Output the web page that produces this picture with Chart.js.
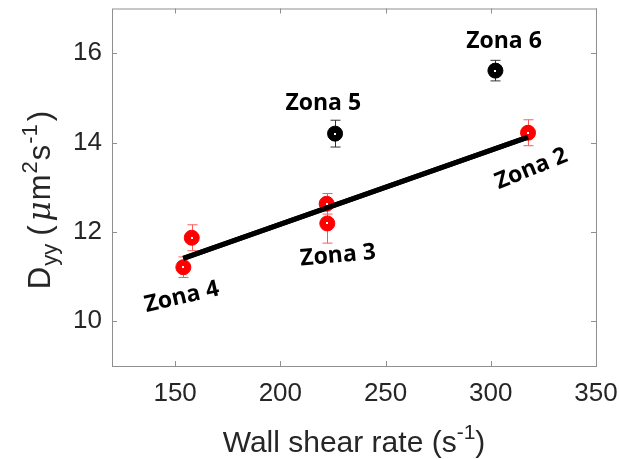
<!DOCTYPE html>
<html>
<head>
<meta charset="utf-8">
<script src="https://cdn.jsdelivr.net/npm/chart.js@4.4.0/dist/chart.umd.min.js"></script>
<style>
  html, body { margin: 0; padding: 0; background: #fff; }
  #wrap { width: 619px; height: 459px; }
</style>
</head>
<body>
<div id="wrap"><canvas id="chart-area"></canvas></div>
<script>
// wall shear rate (1/s) vs. D_yy, zones 2,3,4 in red, zones 5,6 in black
var redX = [317.7, 222.0, 222.3, 153.9, 157.9];
var redY = [14.22, 12.63, 12.19, 11.21, 11.87];
var redErr = [0.29, 0.23, 0.44, 0.23, 0.29];

var blackX = [226.0, 302.2];
var blackY = [14.20, 15.61];
var blackErr = [0.30, 0.23];

// linear fit through the red zones
var fitX = [153.9, 317.7];
var fitY = [11.41, 14.12];

var xTicks = [150, 200, 250, 300, 350];
var yTicks = [10, 12, 14, 16];

var zoneNames = ['Zona 2', 'Zona 3', 'Zona 4', 'Zona 5', 'Zona 6'];
var zoneX = [319.3, 227.4, 153.2, 220.4, 306.3];
var zoneY = [13.41, 11.47, 10.54, 14.885, 16.26];
var zoneAngle = [-22, -5, -13, 0, 0];

function toPoints(xs, ys) {
  return xs.map(function (x, i) { return { x: x, y: ys[i] }; });
}

// error bars, drawn under the markers
var errorBars = {
  id: 'errorBars',
  beforeDatasetsDraw: function (chart) {
    var ctx = chart.ctx;
    var xs = chart.scales.x, ys = chart.scales.y;
    function bars(xv, yv, ev, color) {
      ctx.save();
      ctx.strokeStyle = color;
      ctx.lineWidth = 1;
      for (var i = 0; i < xv.length; i++) {
        var px = Math.round(xs.getPixelForValue(xv[i])) + 0.5;
        var top = ys.getPixelForValue(yv[i] + ev[i]);
        var bot = ys.getPixelForValue(yv[i] - ev[i]);
        ctx.beginPath();
        ctx.moveTo(px, top); ctx.lineTo(px, bot);
        ctx.moveTo(px - 5, top); ctx.lineTo(px + 5, top);
        ctx.moveTo(px - 5, bot); ctx.lineTo(px + 5, bot);
        ctx.stroke();
      }
      ctx.restore();
    }
    bars(redX, redY, redErr, '#ff5a5a');
    bars(blackX, blackY, blackErr, '#333333');
  }
};

// write a run of text pieces with sub/superscripts, centred on x
function richText(ctx, parts, x, y) {
  var total = 0;
  parts.forEach(function (p) { ctx.font = p.font; total += ctx.measureText(p.t).width + (p.gap || 0); });
  var cx = x - total / 2;
  parts.forEach(function (p) {
    ctx.font = p.font;
    ctx.fillText(p.t, cx, y + (p.dy || 0));
    cx += ctx.measureText(p.t).width + (p.gap || 0);
  });
}

var frameAndText = {
  id: 'frameAndText',
  afterDraw: function (chart) {
    var ctx = chart.ctx, a = chart.chartArea;
    var xs = chart.scales.x, ys = chart.scales.y;
    ctx.save();
    // box with inward ticks on every side
    ctx.strokeStyle = '#8f8f8f';
    ctx.lineWidth = 1;
    ctx.strokeRect(a.left + 0.5, a.top + 0.5, a.right - a.left, a.bottom - a.top);
    ctx.beginPath();
    xTicks.forEach(function (v) {
      var px = Math.round(xs.getPixelForValue(v)) + 0.5;
      ctx.moveTo(px, a.bottom); ctx.lineTo(px, a.bottom - 5);
      ctx.moveTo(px, a.top); ctx.lineTo(px, a.top + 5);
    });
    yTicks.forEach(function (v) {
      var py = Math.round(ys.getPixelForValue(v)) + 0.5;
      ctx.moveTo(a.left, py); ctx.lineTo(a.left + 5, py);
      ctx.moveTo(a.right, py); ctx.lineTo(a.right - 5, py);
    });
    ctx.stroke();

    // zone labels
    ctx.fillStyle = '#000';
    ctx.font = 'bold 23px "Open Sans"';
    ctx.textAlign = 'center';
    ctx.textBaseline = 'middle';
    zoneNames.forEach(function (name, i) {
      ctx.save();
      ctx.translate(xs.getPixelForValue(zoneX[i]), ys.getPixelForValue(zoneY[i]));
      ctx.rotate(zoneAngle[i] * Math.PI / 180);
      ctx.fillText(name, 0, 0);
      ctx.restore();
    });

    // axis titles
    ctx.fillStyle = '#262626';
    ctx.textAlign = 'left';
    ctx.textBaseline = 'alphabetic';
    var big = '30px "Liberation Sans"', small = '21px "Liberation Sans"';
    richText(ctx, [
      { t: 'Wall shear rate (s', font: big },
      { t: '-1', font: small, dy: -13 },
      { t: ')', font: big }
    ], (a.left + a.right) / 2, 452);

    var yBig = '31px "Liberation Sans"', ySmall = '22px "Liberation Sans"';
    ctx.save();
    ctx.translate(50, 200);
    ctx.rotate(-Math.PI / 2);
    richText(ctx, [
      { t: 'D', font: yBig, gap: 1 },
      { t: 'yy', font: ySmall, dy: 7, gap: 8 },
      { t: '(', font: yBig, gap: 4 },
      { t: '\u03bc', font: 'italic 31px "DejaVu Serif"', gap: 1 },
      { t: 'm', font: yBig, gap: 1 },
      { t: '2', font: ySmall, dy: -13, gap: 1 },
      { t: 's', font: yBig, gap: 1 },
      { t: '-1', font: ySmall, dy: -13, gap: 3 },
      { t: ')', font: yBig }
    ], 0, 0);
    ctx.restore();
    ctx.restore();
  }
};

// tiny white square in the middle of each marker, then the fit line on top
var centerDots = {
  id: 'centerDots',
  afterDatasetsDraw: function (chart) {
    var ctx = chart.ctx;
    ctx.save();
    ctx.fillStyle = '#fff';
    [0, 1].forEach(function (di) {
      chart.getDatasetMeta(di).data.forEach(function (pt) {
        ctx.fillRect(Math.round(pt.x) - 1, Math.round(pt.y) - 1, 2, 2);
      });
    });
    chart.getDatasetMeta(2).controller.draw();
    ctx.restore();
  }
};

function noPad(s) {
  s.paddingTop = 0; s.paddingBottom = 0; s.paddingLeft = 0; s.paddingRight = 0;
}

var config = {
  type: 'scatter',
  data: {
    datasets: [{
      data: toPoints(redX, redY),
      backgroundColor: '#ff0000',
      borderColor: '#ff0000',
      pointRadius: 7.5,
      pointHoverRadius: 7.5,
      order: 2
    }, {
      data: toPoints(blackX, blackY),
      backgroundColor: '#000',
      borderColor: '#000',
      pointRadius: 7.5,
      pointHoverRadius: 7.5,
      order: 1
    }, {
      type: 'line',
      data: toPoints(fitX, fitY),
      borderColor: '#000',
      borderWidth: 5,
      pointRadius: 0,
      fill: false,
      order: 3
    }]
  },
  options: {
    responsive: true,
    maintainAspectRatio: false,
    animation: false,
    events: [],
    layout: { padding: { top: 7, right: 23, left: 0, bottom: 0 } },
    plugins: { legend: { display: false }, tooltip: { enabled: false } },
    scales: {
      x: {
        type: 'linear',
        min: 120, max: 350,
        grid: { display: false, drawTicks: false },
        border: { display: false },
        afterBuildTicks: function (s) { s.ticks = xTicks.map(function (v) { return { value: v }; }); },
        afterFit: function (s) { s.height = 93; noPad(s); },
        ticks: { padding: 12, color: '#262626', font: { family: 'Liberation Sans', size: 26 }, maxRotation: 0 }
      },
      y: {
        type: 'linear',
        min: 9, max: 17,
        grid: { display: false, drawTicks: false },
        border: { display: false },
        afterBuildTicks: function (s) { s.ticks = yTicks.map(function (v) { return { value: v }; }); },
        afterFit: function (s) { s.width = 112; noPad(s); },
        ticks: { padding: 10, color: '#262626', font: { family: 'Liberation Sans', size: 26 } }
      }
    }
  },
  plugins: [errorBars, centerDots, frameAndText]
};

window.myChart = new Chart(document.getElementById('chart-area').getContext('2d'), config);
</script>
</body>
</html>
